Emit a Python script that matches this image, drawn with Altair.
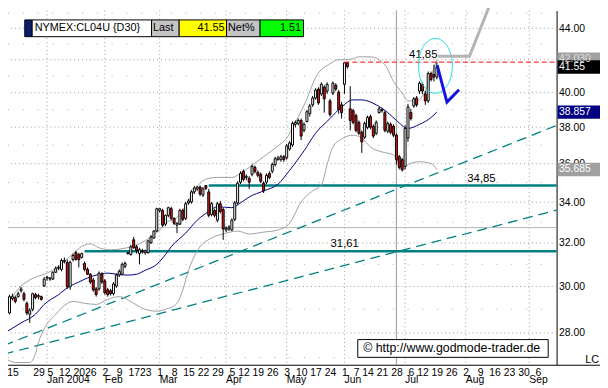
import json
import pandas as pd
import altair as alt

# ---------------- trading calendar ----------------
HOLIDAYS = ["2003-12-25", "2004-01-01", "2004-01-19", "2004-02-16",
            "2004-04-09", "2004-05-31", "2004-06-11", "2004-07-05"]
SESSIONS = [d.strftime("%Y-%m-%d") for d in pd.bdate_range("2003-12-10", "2004-09-30")
            if d.strftime("%Y-%m-%d") not in HOLIDAYS]
POS = {d: i for i, d in enumerate(SESSIONS)}

# ---------------- candles (NYMEX CL Sep-2004, daily) ----------------
FIRST_CANDLE = "2003-12-12"
OPEN = [28.84, 29.47, 29.51, 29.55, 29.81, 29.68, 29.26, 28.79, 29.00, 29.64,
        29.55, 29.55, 30.02, 30.38, 30.33, 30.33, 30.64, 30.82, 30.77, 31.13,
        31.09, 29.98, 31.22, 31.54, 31.45, 31.32, 31.04, 30.77, 30.55, 30.29,
        29.89, 29.89, 30.55, 30.25, 29.85, 29.81, 29.68, 30.02, 30.51, 30.55,
        30.91, 31.50, 31.45, 32.15, 31.82, 31.50, 31.63, 31.54, 31.54, 32.01,
        32.24, 32.57, 33.58, 33.58, 32.91, 33.34, 33.67, 33.19, 32.86, 32.91,
        33.58, 33.19, 33.96, 34.01, 34.52, 34.67, 34.77, 34.36, 34.85, 34.52,
        33.38, 33.58, 33.10, 33.92, 33.63, 32.62, 32.67, 32.62, 33.14, 33.96,
        35.02, 35.59, 35.27, 35.22, 35.43, 35.80, 35.53, 35.43, 34.97, 35.02,
        35.48, 35.59, 35.95, 36.21, 36.21, 36.37, 36.31, 36.79, 37.01, 38.16,
        38.21, 38.38, 37.82, 38.32, 38.77, 39.28, 39.68, 40.21, 39.92, 40.32,
        40.09, 39.51, 39.97, 40.44, 40.03, 39.28, 40.50, 41.81, 39.05, 38.94,
        38.66, 38.27, 37.71, 37.44, 37.99, 38.60, 38.05, 37.66, 38.83, 38.99,
        38.83, 37.77, 38.16, 38.05, 37.55, 36.37, 36.21, 35.85, 37.39, 38.83,
        39.22, 39.68, 40.09, 40.50, 39.92, 39.51, 41.15, 41.09, 40.93]
HIGH = [29.64, 29.68, 29.60, 29.77, 29.98, 29.77, 29.34, 29.05, 29.72, 29.72,
        29.68, 29.60, 30.42, 30.46, 30.42, 30.68, 30.91, 30.95, 31.27, 31.32,
        31.22, 31.18, 31.50, 31.63, 31.54, 31.54, 31.13, 30.86, 30.60, 30.38,
        29.98, 30.68, 30.64, 30.33, 29.94, 29.89, 30.20, 30.60, 30.77, 31.09,
        31.13, 31.59, 31.91, 32.29, 31.91, 31.77, 31.73, 31.68, 32.15, 32.38,
        32.62, 33.72, 33.72, 33.67, 33.38, 33.77, 33.77, 33.24, 33.00, 33.67,
        33.67, 34.01, 34.16, 34.62, 34.82, 34.82, 34.85, 34.77, 34.85, 34.67,
        34.01, 33.67, 34.01, 34.06, 33.72, 32.81, 32.86, 33.19, 34.06, 35.07,
        35.59, 35.69, 35.43, 35.33, 35.95, 35.90, 35.64, 35.53, 35.07, 35.48,
        35.59, 36.05, 36.37, 36.42, 36.47, 36.47, 37.07, 37.23, 38.32, 38.38,
        38.49, 38.49, 38.27, 38.99, 39.34, 39.80, 40.26, 40.32, 40.61, 40.44,
        40.61, 39.63, 40.67, 40.56, 40.15, 39.45, 41.85, 41.85, 40.38, 39.05,
        38.77, 38.38, 37.82, 38.32, 38.66, 38.72, 38.16, 38.38, 39.16, 39.11,
        38.94, 38.32, 38.27, 38.16, 37.66, 36.47, 36.31, 38.10, 39.34, 39.05,
        39.74, 39.80, 40.67, 40.61, 40.09, 41.27, 41.27, 41.69, 41.85]
LOW = [28.79, 29.38, 29.26, 29.51, 29.72, 29.34, 28.75, 28.42, 28.92, 29.43,
       29.43, 29.38, 29.98, 30.25, 30.25, 30.29, 30.60, 30.73, 30.68, 31.04,
       29.89, 29.85, 31.13, 31.18, 30.86, 31.27, 30.68, 30.51, 30.11, 29.77,
       29.55, 29.81, 30.11, 29.64, 29.55, 29.60, 29.60, 29.94, 30.42, 30.51,
       30.82, 31.45, 31.41, 31.73, 31.50, 31.00, 31.50, 31.45, 31.50, 31.96,
       32.19, 32.52, 33.48, 32.76, 32.81, 33.24, 33.10, 32.86, 32.47, 32.86,
       33.05, 33.10, 33.87, 33.92, 34.41, 34.57, 34.31, 34.26, 34.62, 33.24,
       33.29, 33.24, 33.00, 33.43, 32.15, 32.52, 32.57, 32.57, 33.05, 33.87,
       34.92, 35.07, 35.12, 34.67, 35.33, 35.48, 35.27, 34.97, 34.46, 34.92,
       35.17, 35.48, 35.85, 36.16, 36.10, 36.10, 36.21, 36.69, 36.90, 37.99,
       38.10, 37.28, 37.71, 38.27, 38.60, 39.16, 39.57, 39.28, 39.80, 38.83,
       39.92, 38.60, 39.86, 40.09, 38.77, 38.49, 39.92, 41.45, 37.82, 38.16,
       37.71, 37.55, 36.58, 37.34, 37.88, 37.88, 37.39, 37.55, 38.77, 38.83,
       37.71, 37.66, 37.60, 37.44, 35.95, 35.69, 35.59, 35.69, 37.18, 38.38,
       39.11, 39.16, 39.92, 39.92, 39.28, 39.39, 40.67, 40.67, 40.79]
CLOSE = [29.55, 29.55, 29.34, 29.68, 29.89, 29.43, 28.84, 28.96, 29.68, 29.51,
         29.60, 29.43, 30.33, 30.42, 30.38, 30.64, 30.82, 30.86, 31.18, 31.18,
         29.98, 31.09, 31.41, 31.22, 31.22, 31.50, 30.77, 30.55, 30.20, 29.85,
         29.64, 30.60, 30.20, 29.72, 29.64, 29.68, 30.11, 30.51, 30.68, 31.00,
         31.04, 31.54, 31.82, 31.77, 31.63, 31.68, 31.59, 31.63, 32.10, 32.29,
         32.57, 33.67, 33.67, 32.86, 33.34, 33.72, 33.19, 32.95, 32.95, 33.58,
         33.14, 33.92, 34.06, 34.52, 34.72, 34.77, 34.41, 34.67, 34.70, 33.34,
         33.92, 33.34, 33.92, 33.53, 32.67, 32.71, 32.76, 33.10, 33.96, 34.97,
         35.48, 35.17, 35.33, 35.02, 35.85, 35.59, 35.38, 35.07, 34.57, 35.38,
         35.27, 35.95, 36.26, 36.31, 36.37, 36.21, 36.96, 37.12, 38.21, 38.27,
         38.38, 37.50, 38.16, 38.88, 39.22, 39.68, 40.15, 39.39, 40.50, 39.63,
         40.50, 38.72, 40.56, 40.21, 39.00, 38.83, 41.81, 41.57, 38.38, 38.27,
         37.82, 37.66, 37.18, 38.21, 38.55, 37.99, 37.50, 38.27, 39.05, 38.94,
         37.82, 38.21, 37.71, 37.55, 36.21, 35.80, 35.69, 37.93, 39.16, 38.49,
         39.63, 39.28, 40.56, 40.09, 39.51, 41.15, 40.79, 40.93, 41.55]

# ---------------- Bollinger bands (session index, value) ----------------
UPPER_AT = [1, 3, 5, 9, 11, 14, 18, 21, 24, 28, 30, 33, 37, 41, 47, 51, 54, 56, 60, 63,
            66, 68, 71, 74, 79, 82, 85, 90, 95, 98, 101, 105, 108, 113, 116, 118, 121,
            123, 127, 132, 135, 138, 140, 143, 146, 148, 150]
UPPER = [29.26, 29.55, 29.89, 30.29, 30.42, 30.55, 30.82, 31.13, 31.50, 31.91,
         31.96, 31.77, 31.68, 31.73, 31.96, 32.29, 32.62, 32.95, 33.24, 33.82,
         34.57, 34.97, 35.22, 35.27, 35.27, 35.48, 35.80, 36.37, 36.96, 37.39,
         38.27, 39.63, 40.91, 41.75, 42.00, 42.00, 42.06, 42.18, 42.18, 41.69,
         40.67, 39.97, 39.51, 39.51, 40.09, 40.97, 42.03]
LOWER_AT = [1, 4, 9, 11, 12, 14, 18, 21, 24, 28, 32, 36, 40, 45, 49, 53, 56, 60, 62, 64,
            67, 72, 76, 81, 85, 90, 95, 99, 103, 107, 110, 112, 114, 117, 121, 124, 127,
            131, 135, 137, 138, 140, 144, 148, 150]
LOWER = [26.93, 26.80, 26.80, 27.16, 27.60, 28.17, 28.79, 29.17, 29.34, 29.26,
         29.21, 29.43, 29.55, 29.26, 29.00, 28.92, 29.00, 29.26, 29.85, 30.73,
         31.63, 32.24, 32.43, 32.57, 32.43, 32.52, 32.62, 32.95, 34.01, 34.57,
         34.87, 35.95, 36.90, 37.34, 37.55, 37.39, 36.90, 36.63, 36.47, 35.95,
         35.59, 35.95, 36.10, 36.00, 35.69]
MID_AT = [1, 6, 11, 14, 19, 22, 26, 29, 32, 36, 39, 43, 46, 49, 53, 56, 58, 63, 67, 71,
          74, 79, 82, 85, 90, 95, 99, 104, 108, 113, 117, 121, 124, 129, 133, 136, 140,
          144, 148, 150]
MID = [28.05, 28.42, 28.79, 29.21, 29.64, 29.94, 30.20, 30.38, 30.51, 30.60,
       30.55, 30.51, 30.55, 30.73, 31.00, 31.45, 31.82, 32.47, 33.10, 33.53,
       33.77, 33.72, 33.96, 34.26, 34.57, 34.92, 35.64, 36.69, 37.66, 38.49,
       39.16, 39.57, 39.57, 39.28, 38.83, 38.38, 37.93, 38.16, 38.55, 38.86]

# ---------------- axis labels ----------------
TICK_DATES = ["2003-12-15", "2003-12-29", "2004-01-05", "2004-01-12", "2004-01-20",
              "2004-01-26", "2004-02-02", "2004-02-09", "2004-02-17", "2004-02-23",
              "2004-03-01", "2004-03-08", "2004-03-15", "2004-03-22", "2004-03-29",
              "2004-04-05", "2004-04-12", "2004-04-19", "2004-04-26", "2004-05-03",
              "2004-05-10", "2004-05-17", "2004-05-24", "2004-06-01", "2004-06-07",
              "2004-06-14", "2004-06-21", "2004-06-28", "2004-07-06", "2004-07-12",
              "2004-07-19", "2004-07-26", "2004-08-02", "2004-08-09", "2004-08-16",
              "2004-08-23", "2004-08-30", "2004-09-06"]
MONTH_DATES = ["2004-01-02", "2004-02-02", "2004-03-01", "2004-04-01", "2004-05-03",
               "2004-06-01", "2004-07-01", "2004-08-02", "2004-09-01"]
MONTH_NAMES = ["Jan 2004", "Feb", "Mar", "Apr", "May", "Jun", "Jul", "Aug", "Sep"]
PRICE_GRID = [28, 30, 32, 34, 36, 38, 40, 42, 44]
PRICE_LABELS = [28, 30, 32, 34, 36, 38, 40, 44]
MINOR_LEVELS = [27, 29, 31, 33, 35, 37, 39, 41, 43, 45]

# ---------------- drawn analysis ----------------
RESIST_LEVEL, RESIST_FROM = 41.85, "2004-06-01"
SUPPORT_LEVELS = [34.85, 31.61]
SUPPORT_FROM = ["2004-03-24", "2004-01-22"]
LINES_TO = "2004-09-15"
TREND_A = [27.48, 38.13]
TREND_B = [27.13, 33.62]
TREND_DATES = ["2003-12-10", "2004-09-15"]
LEVEL_TEXT = ["41,85", "34,85", "31,61"]
LEVEL_VAL = [41.85, 34.85, 31.61]
LEVEL_AT = [145.3, 165.4, 118.1]
MARK_DAY = "2004-06-28"
GRAY_LEVEL = 32.74
BLUE_AT, BLUE_P = [150.1, 153.5, 157.7], [41.67, 39.44, 40.17]
PROJ_AT, PROJ_P = [150.4, 161.3, 168.1], [42.22, 42.22, 45.44]
CIRCLE_AT, CIRCLE_P = [149.5], [41.62]

LAST_VALS = [42.03, 41.55, 38.857, 35.685]
LAST_TEXT = ["42.030", "41.55", "38.857", "35.685"]
LAST_BG = ["#a0a0a0", "#000000", "#000080", "#a0a0a0"]
LAST_FG = ["#dcdcdc", "white", "white", "white"]

# ---------------- scales / axes ----------------
W, H = 556, 359
xs = alt.Scale(domain=[3.18, 189.76], nice=False, zero=False)
ys = alt.Scale(type="log", domain=[26.71, 45.18], nice=False)

lab_arr = [""] * len(SESSIONS)
for d in TICK_DATES:
    lab_arr[POS[d]] = str(int(d[8:]))
xaxis = alt.Axis(values=[POS[d] for d in TICK_DATES],
                 labelExpr=json.dumps(lab_arr) + "[datum.value]",
                 domain=False, ticks=False, grid=False, labelFontSize=10.5,
                 labelPadding=3, labelOverlap=False, labelFlush=True,
                 labelColor="black", title=None)
yaxis = alt.Axis(orient="right", values=PRICE_LABELS, format=".2f", domain=True,
                 domainColor="black", domainWidth=1, ticks=False, grid=False,
                 labelFontSize=10.5, labelPadding=2, labelColor="black", title=None)


def X(f):
    return alt.X(f, type="quantitative", scale=xs, axis=xaxis)


def Y(f):
    return alt.Y(f, type="quantitative", scale=ys, axis=yaxis)


layers = []

# grids
layers.append(alt.Chart(pd.DataFrame({"p": PRICE_GRID})).mark_rule(
    color="#a0a0a0", strokeWidth=1, strokeDash=[1, 3]).encode(y=Y("p")))
layers.append(alt.Chart(pd.DataFrame({"p": MINOR_LEVELS})).mark_rule(
    color="#b0b0b0", strokeWidth=1, strokeDash=[1, 14], clip=True).encode(y=Y("p")))
layers.append(alt.Chart(pd.DataFrame({"i": [POS[d] for d in MONTH_DATES]})).mark_rule(
    color="#a0a0a0", strokeWidth=1, strokeDash=[1, 3]).encode(x=X("i")))

# solid gray markers
layers.append(alt.Chart(pd.DataFrame({"p": [GRAY_LEVEL]})).mark_rule(
    color="#b8b8b8", strokeWidth=1).encode(y=Y("p")))
layers.append(alt.Chart(pd.DataFrame({"i": [POS[MARK_DAY]]})).mark_rule(
    color="#a8a8a8", strokeWidth=1.2).encode(x=X("i")))

# trend lines
trend = pd.DataFrame({
    "i": [POS[d] for d in TREND_DATES] * 2,
    "p": TREND_A + TREND_B,
    "k": ["a", "a", "b", "b"]})
layers.append(alt.Chart(trend).mark_line(
    color="#008080", strokeWidth=1.3, strokeDash=[10, 6], clip=True).encode(
    x=X("i"), y=Y("p"), detail="k:N"))

# support levels
sup = pd.DataFrame({"i0": [POS[d] for d in SUPPORT_FROM], "i1": [POS[LINES_TO]] * 2,
                    "p": SUPPORT_LEVELS})
layers.append(alt.Chart(sup).mark_rule(color="#008080", strokeWidth=2.5, clip=True).encode(
    x=X("i0"), x2=alt.X2("i1"), y=Y("p")))

# bollinger bands
for at, vals, col in [(UPPER_AT, UPPER, "#a0a0a0"), (LOWER_AT, LOWER, "#a0a0a0"),
                      (MID_AT, MID, "#000080")]:
    layers.append(alt.Chart(pd.DataFrame({"i": at, "p": vals})).mark_line(
        color=col, strokeWidth=1, interpolate="monotone", clip=True).encode(
        x=X("i"), y=Y("p")))

# candles
start = POS[FIRST_CANDLE]
candles = pd.DataFrame({"i": list(range(start, start + len(CLOSE))),
                        "o": OPEN, "h": HIGH, "l": LOW, "c": CLOSE})
candles["fill"] = ["white" if c >= o else "#ee1111" for o, c in zip(OPEN, CLOSE)]
layers.append(alt.Chart(candles).mark_rule(color="black", strokeWidth=1, clip=True).encode(
    x=X("i"), y=Y("l"), y2=alt.Y2("h")))
layers.append(alt.Chart(candles).mark_bar(size=2, stroke="black", strokeWidth=1,
                                          clip=True).encode(
    x=X("i"), y=Y("o"), y2=alt.Y2("c"), fill=alt.Fill("fill:N", scale=None)))

# resistance
res = pd.DataFrame({"i0": [POS[RESIST_FROM]], "i1": [POS[LINES_TO]], "p": [RESIST_LEVEL]})
layers.append(alt.Chart(res).mark_rule(color="#ff0000", strokeWidth=1, strokeDash=[5, 3],
                                       clip=True).encode(
    x=X("i0"), x2=alt.X2("i1"), y=Y("p")))

# level labels
layers.append(alt.Chart(pd.DataFrame({"i": LEVEL_AT, "p": LEVEL_VAL, "t": LEVEL_TEXT})).mark_text(
    fontSize=11.5, color="black", baseline="middle", align="center", dy=-7).encode(
    x=X("i"), y=Y("p"), text="t:N"))

# hand-drawn annotations
ELLIPSE = "M -0.619 0 A 0.619 1 0 1 1 0.619 0 A 0.619 1 0 1 1 -0.619 0 Z"
layers.append(alt.Chart(pd.DataFrame({"i": CIRCLE_AT, "p": CIRCLE_P})).mark_point(
    shape=ELLIPSE, size=3091, filled=False, color="#20e0e8", strokeWidth=1, opacity=1).encode(
    x=X("i"), y=Y("p")))
layers.append(alt.Chart(pd.DataFrame({"i": PROJ_AT, "p": PROJ_P})).mark_line(
    color="#b4b4b4", strokeWidth=3).encode(x=X("i"), y=Y("p")))
layers.append(alt.Chart(pd.DataFrame({"i": BLUE_AT, "p": BLUE_P})).mark_line(
    color="#1414dc", strokeWidth=3).encode(x=X("i"), y=Y("p")))

# month labels
layers.append(alt.Chart(pd.DataFrame({"i": [POS[d] for d in MONTH_DATES], "t": MONTH_NAMES})).mark_text(
    fontSize=10.5, color="black", align="left", baseline="middle").encode(
    x=X("i"), y=alt.value(374), text="t:N"))

# last-value boxes on the price axis
RECT = "M -1 -0.314 L 1 -0.314 L 1 0.314 L -1 0.314 Z"
lastdf = pd.DataFrame({"p": LAST_VALS, "t": LAST_TEXT, "bg": LAST_BG, "fg": LAST_FG})
layers.append(alt.Chart(lastdf).mark_point(shape=RECT, size=1849, filled=True, opacity=1,
                                           strokeWidth=0).encode(
    x=alt.value(578.5), y=Y("p"), fill=alt.Fill("bg:N", scale=None)))
layers.append(alt.Chart(lastdf).mark_text(align="left", baseline="middle", fontSize=10.5).encode(
    x=alt.value(558.5), y=Y("p"), text="t:N", color=alt.Color("fg:N", scale=None)))

one = pd.DataFrame({"k": [0]})


def rect(x1, x2, y1, y2, fill):
    return alt.Chart(one).mark_rect(fill=fill, stroke="black", strokeWidth=1).encode(
        x=alt.value(x1), x2=alt.value(x2), y=alt.value(y1), y2=alt.value(y2))


def label(x, y, text, align="left", size=11, color="black"):
    return alt.Chart(one).mark_text(text=text, align=align, baseline="middle",
                                    fontSize=size, color=color).encode(
        x=alt.value(x), y=alt.value(y))


# header panel
layers += [
    rect(17, 24.5, 9.5, 26.5, "#0b1e6e"),
    rect(24.5, 145.5, 9.5, 26.5, "white"),
    rect(145.5, 173.5, 9.5, 26.5, "#c4c4c4"),
    rect(173.5, 221.5, 9.5, 26.5, "#ffff00"),
    rect(221.5, 255.5, 9.5, 26.5, "#c4c4c4"),
    rect(255.5, 299.5, 9.5, 26.5, "#00ff00"),
    label(27, 18, "NYMEX:CL04U {D30}"),
    label(147, 18, "Last"),
    label(219.5, 18, "41.55", align="right"),
    label(223, 18, "Net%"),
    label(297, 18, "1.51", align="right"),
]

# watermark & misc
layers += [
    rect(354.5, 547.5, 333.5, 351.5, "white"),
    label(360, 342.5, "\u00a9 http://www.godmode-trader.de", size=12.5),
    label(585, 354, "LC"),
    alt.Chart(one).mark_rule(color="black", strokeWidth=1).encode(
        x=alt.value(0), x2=alt.value(600), y=alt.value(359.5)),
]

chart = alt.layer(*layers).properties(
    width=W, height=H,
    padding={"left": 0, "top": 0, "right": 44, "bottom": 21},
    autosize=alt.AutoSizeParams(type="none"),
).configure(font="Liberation Sans").configure_view(stroke="transparent")

chart.save("out.html", embed_options={"renderer": "svg", "actions": False})
